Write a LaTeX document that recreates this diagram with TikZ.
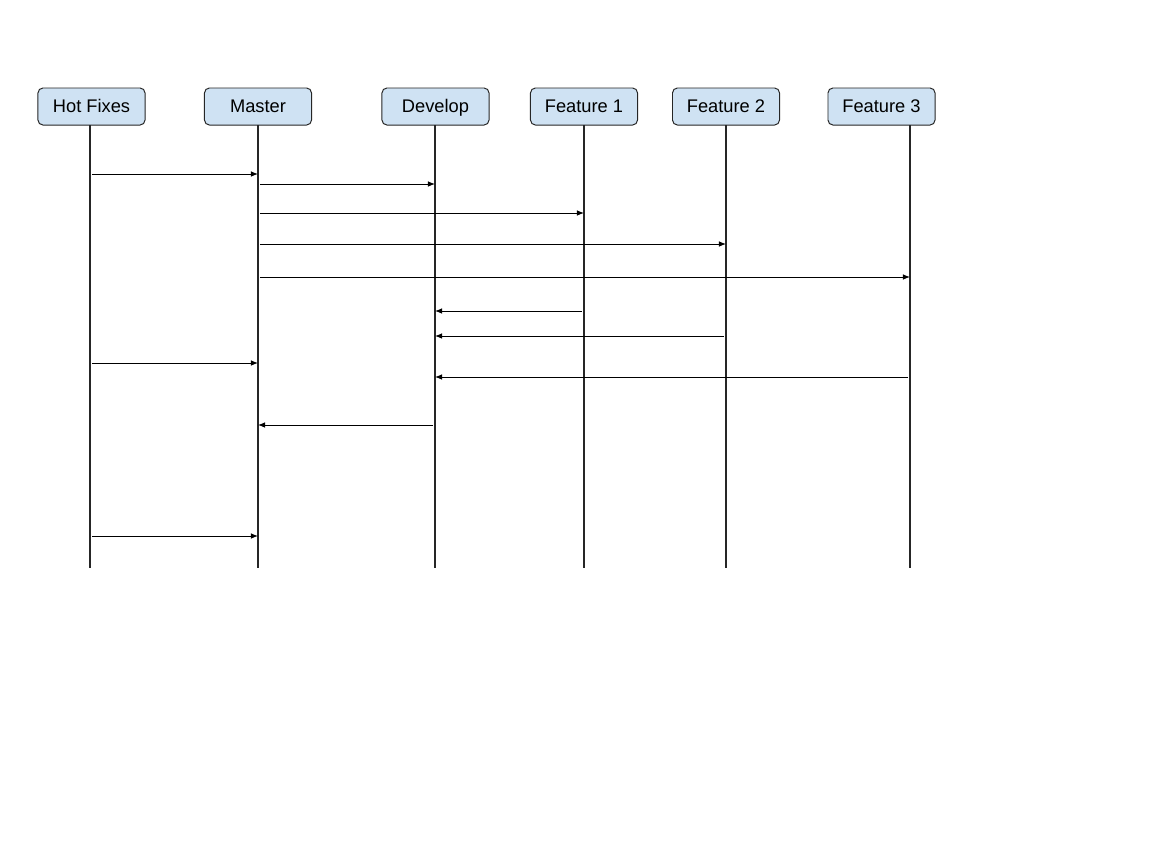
\documentclass[tikz,border=0pt]{standalone}
\usepackage{fontspec}
\setmainfont{Liberation Sans}
\usetikzlibrary{arrows.meta}

\begin{document}
\begin{tikzpicture}[x=0.025cm,y=-0.025cm,
    branch/.style={draw=black!85,line width=0.7pt,rounded corners=3.5pt,
        fill={rgb,255:red,207;green,226;blue,243},
        minimum width=2.675cm,minimum height=0.925cm,inner sep=0pt,
        text height=12pt,text depth=2.8pt,font=\fontsize{13}{15}\selectfont},
    life/.style={line width=1.5pt,black!85},
    msg/.style={line width=0.7pt,-{Latex[length=5pt,width=4pt]},shorten <=1.4pt}]
    \useasboundingbox (0,0) rectangle (1152,864);
    % branches and their lifelines
    \foreach \nm/\lbl/\bx/\lx in {hot/Hot Fixes/91.5/90, mas/Master/258/258, dev/Develop/435.5/435,
        fa/Feature 1/584/584, fb/Feature 2/726/726, fc/Feature 3/881.5/910}
    {
	\node [branch] (\nm) at (\bx,106.5) {\lbl};
	\coordinate (\nm T) at (\lx,125);
	\coordinate (\nm E) at (\lx,568);
	\draw[life] (\nm T) -- (\nm E);
    }
    % merges
    \foreach \from/\to/\y in {hot/mas/174, mas/dev/184, mas/fa/213, mas/fb/244, mas/fc/277,
        fa/dev/311, fb/dev/336, hot/mas/363, fc/dev/377, dev/mas/425, hot/mas/536}
	\draw[msg] (\from T |- 0,\y) -- (\to T |- 0,\y);
\end{tikzpicture}
\end{document}
